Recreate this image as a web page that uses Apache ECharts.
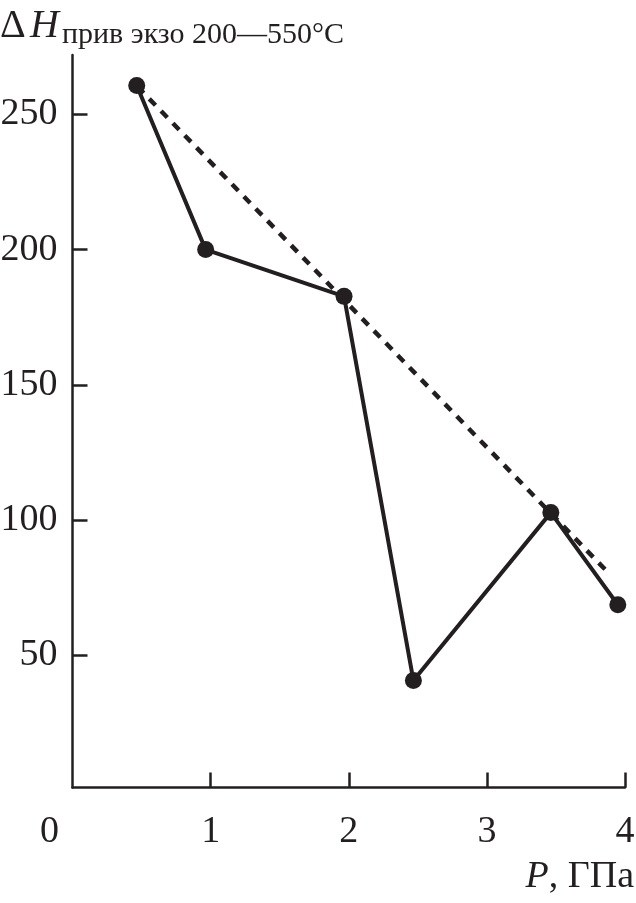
<!DOCTYPE html>
<html>
<head>
<meta charset="utf-8">
<script src="https://cdn.jsdelivr.net/npm/echarts@6/dist/echarts.min.js"></script>
<style>
html,body{margin:0;padding:0;background:#fff;}
#c{width:636px;height:903px;}
</style>
</head>
<body>
<div id="c"></div>
<script>
// Data
var pressure = [0.465, 0.964, 1.966, 2.468, 3.463, 3.948];
var enthalpy = [260.7, 200.0, 182.7, 40.6, 102.7, 68.6];
var trendX = [0.47, 3.89];
var trendY = [260.3, 79.9];
var xTicks = [0, 1, 2, 3, 4];
var yTicks = [50, 100, 150, 200, 250];

var INK = '#231f20';
var FONT = '"Liberation Serif", "DejaVu Serif", serif';

var chart = echarts.init(document.getElementById('c'), null, {renderer: 'canvas'});
chart.setOption({
  animation: false,
  backgroundColor: '#ffffff',
  grid: {left: 72.5, right: 11, top: 55, bottom: 115.5, containLabel: false, outerBoundsMode: 'none'},
  xAxis: {
    type: 'value', min: 0, max: 4,
    axisLine: {show: true, lineStyle: {color: INK, width: 2.5}},
    axisTick: {show: true, inside: true, length: 15, lineStyle: {color: INK, width: 2.5}, customValues: xTicks.slice(1)},
    axisLabel: {
      show: true, customValues: xTicks, margin: 26, color: INK, fontFamily: FONT, fontSize: 38,
      formatter: function (v) { return v === 0 ? '{z|0}' : String(v); },
      rich: {z: {fontFamily: FONT, fontSize: 38, color: INK, padding: [0, 46, 0, 0]}}
    },
    splitLine: {show: false}
  },
  yAxis: {
    type: 'value', min: 1, max: 272,
    axisLine: {show: true, lineStyle: {color: INK, width: 2.5}},
    axisTick: {show: true, inside: true, length: 15, lineStyle: {color: INK, width: 2.5}, customValues: yTicks},
    axisLabel: {show: true, customValues: yTicks, margin: 15, color: INK, fontFamily: FONT, fontSize: 38},
    splitLine: {show: false}
  },
  graphic: [
    {type: 'text', left: 0, top: 6, style: {text: 'Δ', font: '40px ' + FONT, fill: INK}},
    {type: 'text', left: 30, top: 6, style: {text: 'H', font: 'italic 40px ' + FONT, fill: INK}},
    {type: 'text', left: 62, top: 20, style: {text: 'прив экзо 200—550°C', font: '30px ' + FONT, fill: INK}},
    {type: 'text', right: 2, top: 858, style: {
      text: '{i|P}{n|, ГПа}',
      rich: {i: {font: 'italic 38px ' + FONT, fill: INK}, n: {font: '38px ' + FONT, fill: INK}}
    }}
  ],
  series: [
    {
      type: 'line', data: trendX.map(function (x, i) { return [x, trendY[i]]; }),
      symbol: 'none', silent: true, z: 1,
      lineStyle: {color: INK, width: 4.5, type: [9, 8]}
    },
    {
      type: 'line', data: pressure.map(function (x, i) { return [x, enthalpy[i]]; }),
      symbol: 'circle', symbolSize: 17, z: 2,
      itemStyle: {color: INK},
      lineStyle: {color: INK, width: 4}
    }
  ]
});
</script>
</body>
</html>
